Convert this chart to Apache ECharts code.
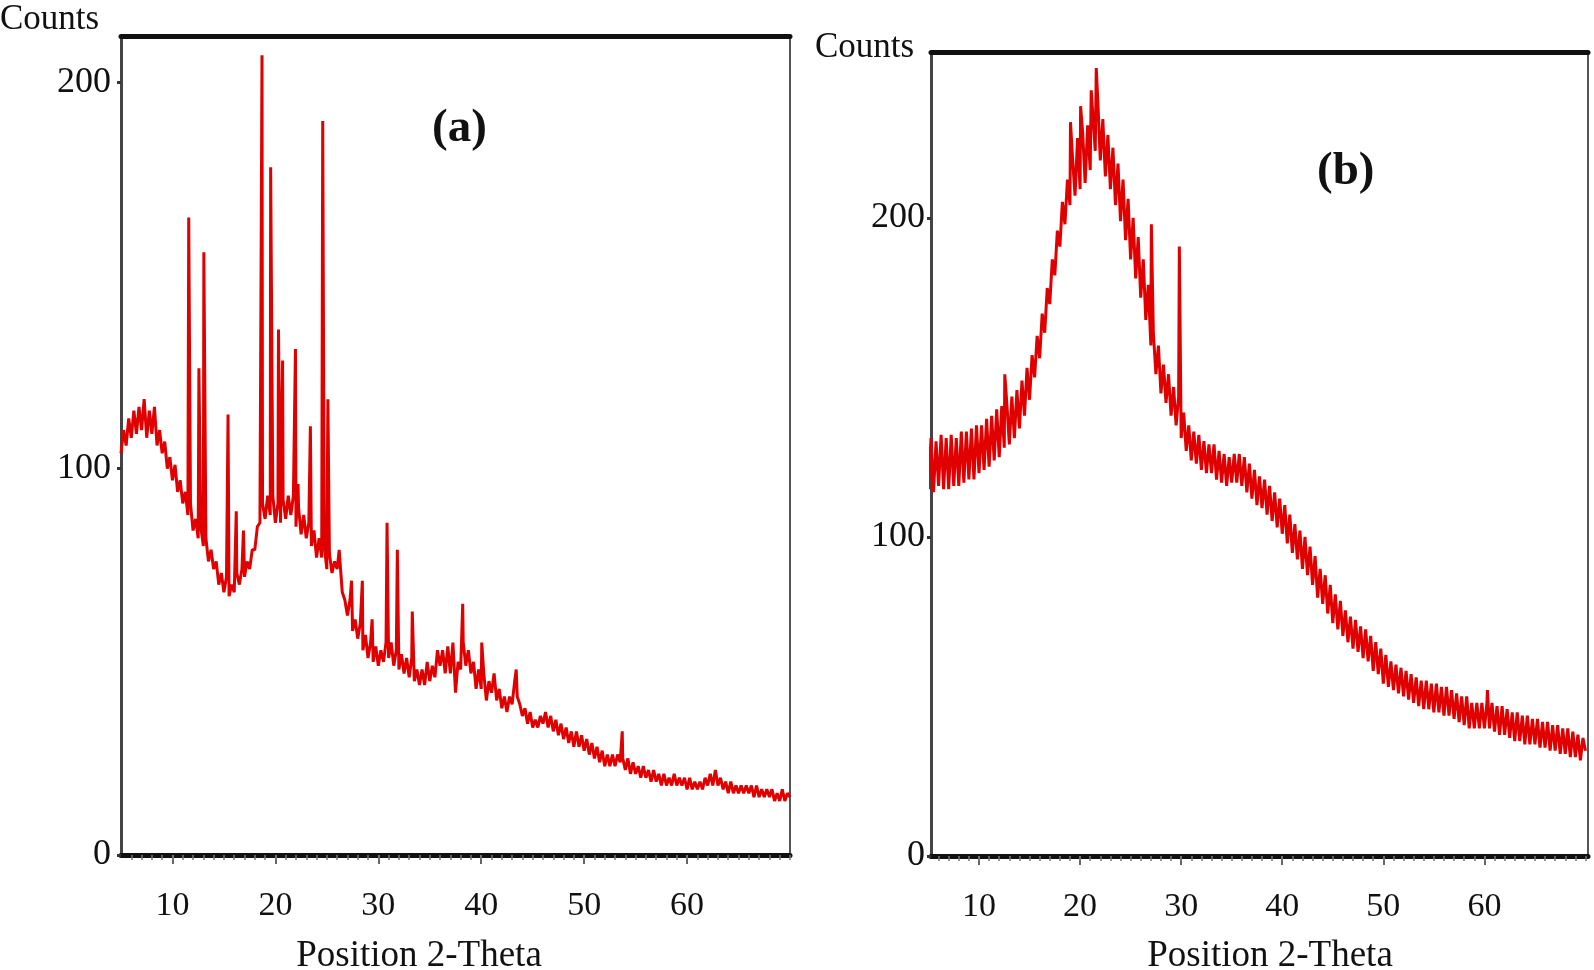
<!DOCTYPE html>
<html>
<head>
<meta charset="utf-8">
<script src="https://cdn.jsdelivr.net/npm/echarts@6/dist/echarts.min.js"></script>
<style>
  html, body { margin: 0; padding: 0; background: #ffffff; }
  #chart { width: 1594px; height: 970px; }
</style>
</head>
<body>
<div id="chart"></div>
<script>
// ---- data ----
const X_MIN = 5, X_MAX = 70, STEP = 0.25;   // 2-theta scan grid
const xTicks = [10, 20, 30, 40, 50, 60];
const yTicks = [0, 100, 200];
const yMaxA = 212, yMaxB = 252;
const xRangeA = [5, 70], xRangeB = [5.25, 70.25];

// panel (a): background counts every 0.25 deg from 5 to 70
const bgA = [
  104,110,106,113, 108,115,109,116, 110,118,108,115, 109,116,106,110,
  104,107,100,103,  97,101, 94, 97,  91, 94, 88, 91,  84, 87, 82, 85,
   80, 82, 76, 79,  74, 76, 70, 73,  68, 72, 67, 70,  68, 73, 70, 74,
   72, 76, 74, 79,  79, 85, 86, 91,  87, 93, 88, 93,  86, 91, 86, 92,
   87, 93, 88, 93,  85, 90, 83, 88,  82, 86, 80, 84,  77, 82, 77, 80,
   74, 78, 73, 76,  74, 77, 68, 66,  62, 66, 58, 61,  56, 60, 53, 57,
   51, 55, 50, 54,  49, 53, 50, 55,  51, 55, 49, 53,  48, 52, 47, 51,
   46, 51, 45, 48,  44, 48, 44, 50,  45, 49, 46, 53,  49, 53, 47, 54,
   47, 55, 42, 50,  48, 55, 49, 53,  47, 50, 43, 48,  43, 47, 40, 45,
   42, 47, 40, 43,  38, 41, 37, 41,  39, 45, 41, 39,  36, 38, 34, 37,
   33, 35, 33, 36,  34, 37, 33, 36,  32, 35, 31, 34,  30, 33, 29, 32,
   28, 32, 28, 31,  27, 30, 26, 29,  25, 28, 24, 27,  23, 26, 23, 26,
   23, 26, 24, 25,  22, 25, 21, 24,  21, 23, 20, 23,  20, 22, 19, 22,
   19, 21, 18, 21,  18, 20, 18, 21,  18, 20, 18, 20,  17, 20, 17, 19,
   17, 19, 17, 20,  18, 21, 18, 22,  18, 20, 17, 19,  16, 19, 16, 18,
   16, 18, 16, 18,  16, 18, 15, 18,  15, 17, 15, 17,  15, 17, 14, 16,
   14, 17, 14, 16,
   15
];
// panel (a): sharp reflections [2-theta, counts]
const peaksA = [
  [11.58,165],[12.57,126],[13.05,156],[15.4,114],[16.2,89],[16.9,84],
  [18.7,207],[19.54,178],[20.3,136],[20.7,128],[21.95,131],[22.2,96],
  [23.4,111],[24.6,190],[25.1,118],[26.2,79],[27.4,71],[28.45,71],
  [29.4,61],[30.85,86],[31.85,79],[33.3,63],[38.2,65],[40.05,55],
  [43.4,48],[53.7,32]
];

// panel (b): background counts every 0.25 deg from 5 to 70
const bgB = [
  115,131,114,130, 116,132,115,131, 115,132,116,131, 116,133,117,133,
  118,134,118,135, 120,135,121,137, 122,138,124,140, 125,141,128,142,
  129,144,131,146, 134,149,138,153, 143,157,150,163, 156,170,164,178,
  173,187,182,196, 191,205,198,212, 204,219,207,225, 209,227,211,229,
  215,233,221,237, 218,231,213,226, 209,222,204,217, 199,212,193,206,
  187,200,181,194, 175,187,168,179, 160,164,151,160, 145,154,142,151,
  138,147,135,144, 131,139,127,135, 124,133,123,132, 121,130,120,129,
  120,129,118,127, 117,126,116,125, 117,126,117,126, 116,125,114,123,
  112,121,110,119, 109,118,107,116, 105,114,103,112, 101,110, 98,107,
   95,104, 93,102,  90,100, 88, 97,  85, 94, 81, 90,  79, 88, 76, 85,
   73, 82, 71, 80,  69, 77, 67, 75,  65, 74, 64, 72,  62, 71, 61, 69,
   58, 67, 57, 65,  54, 63, 53, 61,  52, 60, 51, 59,  50, 58, 49, 57,
   48, 56, 47, 55,  46, 55, 46, 54,  45, 54, 45, 53,  44, 53, 44, 52,
   43, 51, 42, 50,  41, 50, 40, 48,  40, 48, 40, 48,  40, 48, 40, 48,
   39, 47, 38, 47,  38, 46, 37, 45,  36, 45, 36, 44,  35, 44, 35, 43,
   35, 43, 34, 42,  34, 42, 33, 41,  33, 41, 32, 40,  32, 40, 31, 39,
   31, 38, 30, 37,
   33
];
const peaksB = [
  [12.55,151],[19.05,230],[20.05,235],[21.1,240],[21.6,247],
  [27.05,198],[29.82,191],[60.3,52]
];

// ---- build series tables ----
function buildPattern(bg, peaks) {
  const pts = bg.map((y, i) => [X_MIN + i * STEP, y]);
  peaks.forEach(p => pts.push([p[0], p[1]]));
  pts.sort((a, b) => a[0] - b[0]);
  return pts;
}
const fineTicks = [];
for (let v = 6; v <= 70; v++) fineTicks.push(v);

const FONT = 'Liberation Serif';
const INK = '#111111';
const RED = '#e00000';

function axesFor(grid, xr, yMax, yLabelMargin, xLabelMargin) {
  return {
    x: [
      { // main bottom axis with labels
        gridIndex: grid, type: 'value', min: xr[0], max: xr[1], position: 'bottom',
        axisLine: { show: true, onZero: false, lineStyle: { color: INK, width: 5 } },
        axisTick: { show: true, customValues: xTicks, length: 9, lineStyle: { color: '#666', width: 2 } },
        axisLabel: { show: true, customValues: xTicks, margin: xLabelMargin, fontFamily: FONT, fontSize: 34, color: INK },
        splitLine: { show: false }
      },
      { // fine ticks, every degree
        gridIndex: grid, type: 'value', min: xr[0], max: xr[1], position: 'bottom',
        axisLine: { show: false },
        axisTick: { show: true, customValues: fineTicks, length: 5, lineStyle: { color: '#777', width: 1.5 } },
        axisLabel: { show: false }, splitLine: { show: false }
      },
      { // frame top
        gridIndex: grid, type: 'value', min: xr[0], max: xr[1], position: 'top',
        axisLine: { show: true, onZero: false, lineStyle: { color: INK, width: 5 } },
        axisTick: { show: false }, axisLabel: { show: false }, splitLine: { show: false }
      }
    ],
    y: [
      {
        gridIndex: grid, type: 'value', min: 0, max: yMax, position: 'left',
        axisLine: { show: true, onZero: false, lineStyle: { color: '#444', width: 3 } },
        axisTick: { show: true, customValues: yTicks, length: 4, lineStyle: { color: '#333', width: 3 } },
        axisLabel: { show: true, customValues: yTicks, margin: yLabelMargin, fontFamily: FONT, fontSize: 36, color: INK },
        splitLine: { show: false }
      },
      {
        gridIndex: grid, type: 'value', min: 0, max: yMax, position: 'right',
        axisLine: { show: true, onZero: false, lineStyle: { color: '#555', width: 2 } },
        axisTick: { show: false }, axisLabel: { show: false }, splitLine: { show: false }
      }
    ]
  };
}

const A = axesFor(0, xRangeA, yMaxA, 10, 34);
const B = axesFor(1, xRangeB, yMaxB, 6, 34);

function label(text, x, y, font) {
  return { type: 'text', x: x, y: y, silent: true,
    style: { text: text, font: font, fill: INK, align: 'center', verticalAlign: 'middle' } };
}

const chart = echarts.init(document.getElementById('chart'), null, { renderer: 'canvas' });
chart.setOption({
  animation: false,
  backgroundColor: '#ffffff',
  grid: [
    { left: 121, top: 36, width: 669, height: 819 },
    { left: 931, top: 52, width: 657, height: 804 }
  ],
  xAxis: A.x.concat(B.x),
  yAxis: A.y.concat(B.y),
  graphic: [
    { type: 'text', left: 0, top: 2, style: { text: 'Counts', font: '35px "Liberation Serif"', fill: INK } },
    { type: 'text', left: 815, top: 30, style: { text: 'Counts', font: '35px "Liberation Serif"', fill: INK } },
    { type: 'text', left: 432, top: 105, style: { text: '(a)', font: 'bold 47px "Liberation Serif"', fill: INK } },
    { type: 'text', left: 1317, top: 148, style: { text: '(b)', font: 'bold 47px "Liberation Serif"', fill: INK } },
    label('Position 2-Theta', 419, 956, '37px "Liberation Serif"'),
    label('Position 2-Theta', 1270, 956, '37px "Liberation Serif"')
  ],
  series: [
    {
      name: '(a)', type: 'line', xAxisIndex: 0, yAxisIndex: 0,
      data: buildPattern(bgA, peaksA),
      showSymbol: false, symbol: 'none', sampling: null,
      lineStyle: { color: RED, width: 3 }, z: 3
    },
    {
      name: '(b)', type: 'line', xAxisIndex: 3, yAxisIndex: 2,
      data: buildPattern(bgB, peaksB),
      showSymbol: false, symbol: 'none', sampling: null,
      lineStyle: { color: RED, width: 3 }, z: 3
    }
  ]
});
</script>
</body>
</html>
